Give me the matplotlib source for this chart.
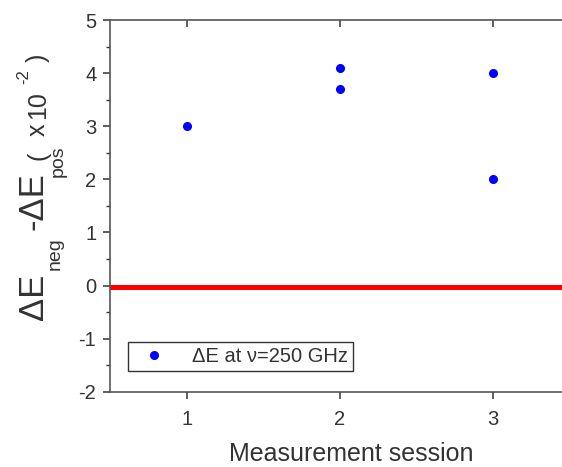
import matplotlib
matplotlib.use('Agg')
import matplotlib.pyplot as plt
from matplotlib.ticker import MultipleLocator

plt.rcParams['font.family'] = ['Liberation Sans', 'DejaVu Sans']
plt.rcParams['axes.unicode_minus'] = False

# data
sessions = [1, 2, 2, 3, 3]
delta_e = [3.0, 4.1, 3.7, 4.0, 2.0]
reference_level = -0.03
legend_label = 'ΔE at ν=250 GHz'

text_color = '#333333'
spine_color = '#555555'
W, H = 562, 467

fig = plt.figure(figsize=(W / 100, H / 100), dpi=100)
ax = fig.add_axes([0.196, 0.161, 0.804, 0.796])

ax.axhline(reference_level, color='#ff0000', linewidth=3.6, zorder=1)
ax.plot(sessions, delta_e, 'o', color='#0000ff', markersize=5.5,
        linestyle='none', label=legend_label, zorder=3)

ax.set_xlim(0.5, 3.45)
ax.set_ylim(-2, 5)
ax.set_xticks([1, 2, 3])
ax.yaxis.set_major_locator(MultipleLocator(1))
ax.yaxis.set_minor_locator(MultipleLocator(0.5))

ax.spines['right'].set_visible(False)
for side in ['left', 'bottom', 'top']:
    ax.spines[side].set_color(spine_color)
    ax.spines[side].set_linewidth(1.2)

ax.tick_params(axis='both', which='major', direction='out', length=5,
               width=1.1, color='#333333', labelsize=14.5, labelcolor=text_color)
ax.tick_params(axis='x', pad=8)
ax.tick_params(axis='y', pad=5)
ax.tick_params(axis='y', which='minor', direction='out', length=3,
               width=1.0, color='#333333')

# top ticks point inward
top = ax.secondary_xaxis('top')
top.set_xticks([1, 2, 3])
top.tick_params(direction='in', length=5, width=1.1, color='#333333',
                labeltop=False)
top.spines['top'].set_visible(False)

ax.set_xlabel('Measurement session', fontsize=18, color=text_color)
ax.xaxis.set_label_coords((351 - 110) / (W * 0.804), -0.135)

# y label pieces: (text, fontsize, baseline x px, bottom y px)
ylabel_parts = [
    ('ΔE', 25, 43, 320),
    ('neg', 14, 60, 270),
    ('-ΔE', 25, 43, 230),
    ('pos', 14, 63, 177),
    ('(', 18, 45, 160),
    ('x', 18, 45, 136),
    ('10', 18, 45, 119),
    ('-2', 12, 28, 84),
    (')', 18, 45, 62),
]
for txt, size, bx, by in ylabel_parts:
    fig.text(bx / W, 1 - by / H, txt, rotation=90, rotation_mode='anchor',
             ha='left', va='baseline', fontsize=size, color=text_color)

leg = ax.legend(loc='lower left', bbox_to_anchor=(0.04, 0.055),
                fontsize=14.5, frameon=True, fancybox=False,
                handletextpad=0.8, borderpad=0.25, handlelength=2.1,
                borderaxespad=0)
leg.get_frame().set_edgecolor('#000000')
leg.get_frame().set_linewidth(1.0)
for t in leg.get_texts():
    t.set_color(text_color)

fig.savefig('out.png', dpi=100)
